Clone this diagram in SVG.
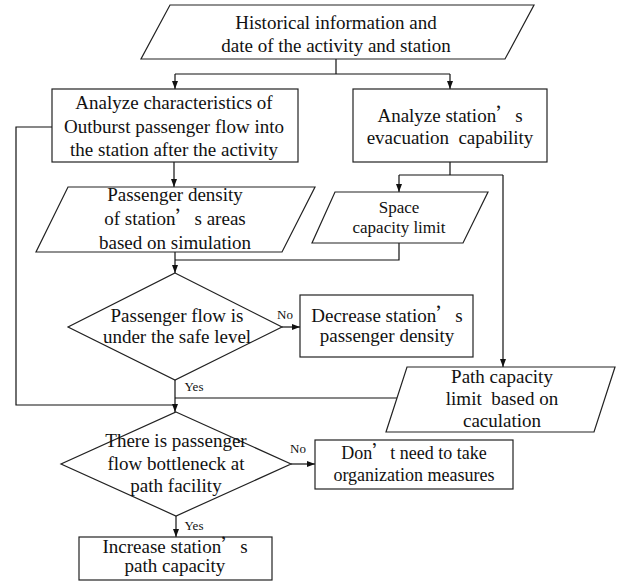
<svg xmlns="http://www.w3.org/2000/svg" width="618" height="584" viewBox="0 0 618 584">
<style>
.s{fill:#fff;stroke:#222;stroke-width:1.2}
.t{font-family:"Liberation Serif","Times New Roman",serif;font-size:19px;fill:#111;text-anchor:middle}
.sm{font-size:17px}
.md{font-size:18px}
.lb{font-family:"Liberation Serif","Times New Roman",serif;font-size:13px;fill:#111;text-anchor:middle}
.c{fill:none;stroke:#111;stroke-width:1.2}
.q{font-family:"Noto Sans CJK SC",sans-serif}
</style>
<defs>
<marker id="ah" markerUnits="userSpaceOnUse" markerWidth="8" markerHeight="6" refX="8" refY="3" orient="auto"><path d="M0,0 L8,3 L0,6 z" fill="#111"/></marker>
</defs>
<g id="connectors">
<path class="c" d="M336,59 V74"/>
<path class="c" d="M175,74 H450"/>
<path class="c" d="M175,74 V89" marker-end="url(#ah)"/>
<path class="c" d="M450,74 V89" marker-end="url(#ah)"/>
<path class="c" d="M174,162 V187" marker-end="url(#ah)"/>
<path class="c" d="M450,162 V175"/>
<path class="c" d="M399,175 H503"/>
<path class="c" d="M399,175 V192" marker-end="url(#ah)"/>
<path class="c" d="M503,175 V367" marker-end="url(#ah)"/>
<path class="c" d="M175,252 V273" marker-end="url(#ah)"/>
<path class="c" d="M399,243 V260 H175"/>
<path class="c" d="M282,327 H300" marker-end="url(#ah)"/>
<path class="c" d="M175,380 V412" marker-end="url(#ah)"/>
<path class="c" d="M397,398 H175"/>
<path class="c" d="M52,127 H16 V405 H175"/>
<path class="c" d="M291,464 H315" marker-end="url(#ah)"/>
<path class="c" d="M176,516 V537" marker-end="url(#ah)"/>
<text class="lb" x="285" y="319">No</text>
<text class="lb" x="194" y="391">Yes</text>
<text class="lb" x="298" y="453">No</text>
<text class="lb" x="194" y="530">Yes</text>
</g>
<g id="n1">
<polygon class="s" points="170,5 534,5 505,59 141,59"/>
<text class="t" x="336" y="29">Historical information and</text>
<text class="t" x="336" y="52">date of the activity and station</text>
</g>
<g id="n2">
<rect class="s" x="52" y="89" width="246" height="73"/>
<text class="t" x="174" y="109">Analyze characteristics of</text>
<text class="t" x="174" y="133">Outburst passenger flow into</text>
<text class="t" x="174" y="156">the station after the activity</text>
</g>
<g id="n3">
<rect class="s" x="353" y="89" width="194" height="73"/>
<text class="t" x="450" y="122">Analyze station<tspan class="q">’</tspan>s</text>
<text class="t" x="450" y="144" xml:space="preserve">evacuation  capability</text>
</g>
<g id="n4">
<polygon class="s" points="68,187 315,187 282,252 36,252"/>
<text class="t" x="175" y="201">Passenger density</text>
<text class="t" x="175" y="225">of station<tspan class="q">’</tspan>s areas</text>
<text class="t" x="175" y="249">based on simulation</text>
</g>
<g id="n5">
<polygon class="s" points="335,192 488,192 463,243 312,243"/>
<text class="t sm" x="399" y="213">Space</text>
<text class="t sm" x="399" y="233">capacity limit</text>
</g>
<g id="n6">
<polygon class="s" points="175,273 282,327 175,380 68,327"/>
<text class="t" x="177" y="322">Passenger flow is</text>
<text class="t" x="177" y="343">under the safe level</text>
</g>
<g id="n7">
<rect class="s" x="300" y="295" width="173" height="62"/>
<text class="t" x="387" y="322">Decrease station<tspan class="q">’</tspan>s</text>
<text class="t" x="387" y="342">passenger density</text>
</g>
<g id="n8">
<polygon class="s" points="407,367 615,367 594,432 386,432"/>
<text class="t" x="502" y="383">Path capacity</text>
<text class="t" x="502" y="405" xml:space="preserve">limit  based on</text>
<text class="t" x="502" y="427">caculation</text>
</g>
<g id="n9">
<polygon class="s" points="176,412 291,464 176,516 61,464"/>
<text class="t" x="176" y="447">There is passenger</text>
<text class="t" x="176" y="470">flow bottleneck at</text>
<text class="t" x="176" y="492">path facility</text>
</g>
<g id="n10">
<rect class="s" x="315" y="440" width="198" height="49"/>
<text class="t md" x="414" y="459">Don<tspan class="q">’</tspan>t need to take</text>
<text class="t md" x="414" y="481">organization measures</text>
</g>
<g id="n11">
<rect class="s" x="79" y="537" width="193" height="43"/>
<text class="t" x="175" y="553">Increase station<tspan class="q">’</tspan>s</text>
<text class="t" x="175" y="572">path capacity</text>
</g>
</svg>
